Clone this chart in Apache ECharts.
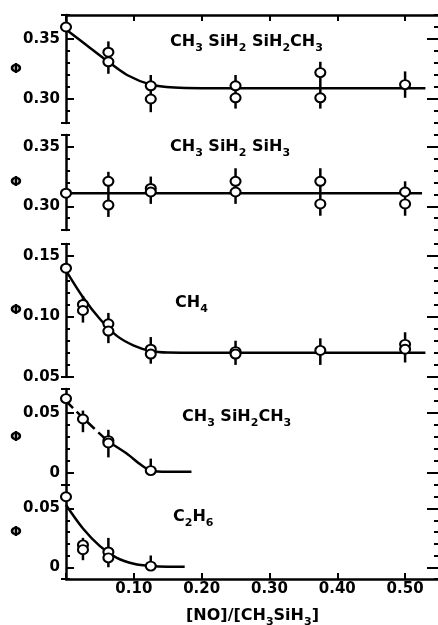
<!DOCTYPE html>
<html>
<head>
<meta charset="utf-8">
<script src="https://cdn.jsdelivr.net/npm/echarts@6/dist/echarts.min.js"></script>
<style>
html, body { margin: 0; padding: 0; background: #fff; }
#box { width: 438px; height: 625px; }
</style>
</head>
<body>
<div id="box"></div>
<script>
// x axis: [NO]/[CH3SiH3]
const xTicks = [0.1, 0.2, 0.3, 0.4, 0.5];

// CH3SiH2SiH2CH3
const disiPts = [[0, 0.360], [0.0625, 0.339], [0.0625, 0.331], [0.125, 0.311], [0.125, 0.300],
  [0.25, 0.311], [0.25, 0.301], [0.375, 0.322], [0.375, 0.301], [0.5, 0.312]];
const disiBars = [[0.0625, 0.321, 0.348], [0.125, 0.289, 0.320], [0.25, 0.292, 0.320],
  [0.375, 0.292, 0.331], [0.5, 0.301, 0.323]];
const disiCurve = [[0, 0.358], [0.03, 0.345], [0.0625, 0.331], [0.09, 0.320], [0.125, 0.312],
  [0.16, 0.3095], [0.2, 0.309], [0.3, 0.309], [0.4, 0.309], [0.53, 0.309]];

// CH3SiH2SiH3
const triPts = [[0, 0.311], [0.0625, 0.321], [0.0625, 0.301], [0.125, 0.315], [0.125, 0.312],
  [0.25, 0.321], [0.25, 0.312], [0.375, 0.321], [0.375, 0.302], [0.5, 0.312], [0.5, 0.302]];
const triBars = [[0.0625, 0.291, 0.329], [0.125, 0.302, 0.325], [0.25, 0.302, 0.332],
  [0.375, 0.292, 0.332], [0.5, 0.292, 0.321]];
const triCurve = [[0, 0.311], [0.25, 0.311], [0.525, 0.311]];

// CH4
const ch4Pts = [[0, 0.140], [0.025, 0.110], [0.025, 0.105], [0.0625, 0.094], [0.0625, 0.088],
  [0.125, 0.073], [0.125, 0.069], [0.25, 0.071], [0.25, 0.069], [0.375, 0.072], [0.5, 0.077], [0.5, 0.073]];
const ch4Bars = [[0.025, 0.095, 0.117], [0.0625, 0.078, 0.103], [0.125, 0.061, 0.083],
  [0.25, 0.060, 0.080], [0.375, 0.060, 0.082], [0.5, 0.062, 0.087]];
const ch4Curve = [[0, 0.138], [0.025, 0.116], [0.05, 0.098], [0.075, 0.084], [0.1, 0.076],
  [0.125, 0.0715], [0.15, 0.0702], [0.2, 0.070], [0.3, 0.070], [0.4, 0.070], [0.53, 0.070]];

// CH3SiH2CH3 (dashed start, then solid)
const dmsPts = [[0, 0.062], [0.025, 0.045], [0.0625, 0.027], [0.0625, 0.025], [0.125, 0.002]];
const dmsBars = [[0.025, 0.034, 0.052], [0.0625, 0.013, 0.036], [0.125, 0.0, 0.012]];
const dmsCurveDash = [[0, 0.060], [0.025, 0.046], [0.0625, 0.026]];
const dmsCurve = [[0.0625, 0.026], [0.09, 0.016], [0.11, 0.007], [0.125, 0.002],
  [0.15, 0.001], [0.185, 0.001]];

// C2H6
const ethPts = [[0, 0.060], [0.025, 0.019], [0.025, 0.015], [0.0625, 0.013], [0.0625, 0.008], [0.125, 0.001]];
const ethBars = [[0.025, 0.006, 0.025], [0.0625, 0.0, 0.025], [0.125, 0.0, 0.010]];
const ethCurve = [[0, 0.053], [0.025, 0.033], [0.05, 0.018], [0.075, 0.008], [0.1, 0.003],
  [0.125, 0.001], [0.15, 0.0005], [0.175, 0.0005]];

const panels = [
  { label: '{b|CH}{s|3}{b| SiH}{s|2}{b| SiH}{s|2}{b|CH}{s|3}', lx: 170, ly: 30,
    top: 15, height: 108, min: 0.28, max: 0.37, yTicks: [0.30, 0.35],
    pts: disiPts, bars: disiBars, curve: disiCurve },
  { label: '{b|CH}{s|3}{b| SiH}{s|2}{b| SiH}{s|3}', lx: 170, ly: 135,
    top: 135, height: 95, min: 0.28, max: 0.36, yTicks: [0.30, 0.35],
    pts: triPts, bars: triBars, curve: triCurve },
  { label: '{b|CH}{s|4}', lx: 175, ly: 291,
    top: 244, height: 133, min: 0.05, max: 0.16, yTicks: [0.05, 0.10, 0.15],
    pts: ch4Pts, bars: ch4Bars, curve: ch4Curve },
  { label: '{b|CH}{s|3}{b| SiH}{s|2}{b|CH}{s|3}', lx: 182, ly: 405,
    top: 389, height: 96, min: -0.01, max: 0.07, yTicks: [0, 0.05],
    pts: dmsPts, bars: dmsBars, curve: dmsCurve, dash: dmsCurveDash },
  { label: '{b|C}{s|2}{b|H}{s|6}', lx: 173, ly: 505,
    top: 485, height: 94, min: -0.01, max: 0.07, yTicks: [0, 0.05],
    pts: ethPts, bars: ethBars, curve: ethCurve }
];

const font = 'DejaVu Sans';
const rich = {
  b: { fontFamily: font, fontWeight: 'bold', fontSize: 16, color: '#000', lineHeight: 24 },
  s: { fontFamily: font, fontWeight: 'bold', fontSize: 11, color: '#000', lineHeight: 24, verticalAlign: 'bottom' }
};
const black = { color: '#000', width: 2.5 };
const fmt = v => (v === 0 ? '0' : v.toFixed(2));

const grids = [], xAxes = [], yAxes = [], series = [], titles = [];

panels.forEach((p, i) => {
  grids.push({ left: 66, width: 373, top: p.top, height: p.height, outerBoundsMode: 'none', containLabel: false });
  titles.push({ text: p.label, left: p.lx, top: p.ly, padding: 0, textStyle: { rich } });

  const last = i === panels.length - 1;
  xAxes.push({
    gridIndex: i, type: 'value', min: 0, max: 0.55, interval: 0.1,
    show: i === 0 || last, position: i === 0 ? 'top' : 'bottom',
    axisLine: { onZero: false, lineStyle: black },
    axisTick: { inside: true, length: 6, lineStyle: { color: '#000', width: 2 } },
    axisLabel: last ? {
      customValues: xTicks, formatter: fmt, margin: 3,
      fontFamily: font, fontWeight: 'bold', fontSize: 15, color: '#000'
    } : { show: false },
    splitLine: { show: false },
    name: last ? '{b|[NO]/[CH}{s|3}{b|SiH}{s|3}{b|]}' : '',
    nameLocation: 'middle', nameGap: 25, nameMoveOverlap: false,
    nameTextStyle: { rich }
  });

  const base = { gridIndex: i, type: 'value', min: p.min, max: p.max, splitLine: { show: false } };
  const yi = yAxes.length;
  // main left axis, minor ticks every 0.01
  yAxes.push({
    ...base, position: 'left', interval: 0.01,
    axisLine: { onZero: false, lineStyle: black },
    axisTick: { inside: true, length: 4, lineStyle: { color: '#000', width: 2 } },
    axisLabel: {
      customValues: p.yTicks, formatter: fmt, margin: 6,
      fontFamily: font, fontWeight: 'bold', fontSize: 15, color: '#000'
    },
    name: 'Φ', nameLocation: 'middle', nameRotate: 0, nameGap: 44, nameMoveOverlap: false,
    nameTextStyle: { fontFamily: font, fontWeight: 'bold', fontSize: 14, color: '#000' }
  });
  // longer ticks at labelled values
  yAxes.push({
    ...base, position: 'left',
    axisLine: { show: false, onZero: false },
    axisTick: { inside: true, length: 8, customValues: p.yTicks, lineStyle: { color: '#000', width: 2 } },
    axisLabel: { show: false }
  });
  // end brackets
  yAxes.push({
    ...base, position: 'left',
    axisLine: { show: false, onZero: false },
    axisTick: { inside: false, length: 5, customValues: [p.min, p.max], lineStyle: { color: '#000', width: 2 } },
    axisLabel: { show: false }
  });
  // right edge ticks
  yAxes.push({
    ...base, position: 'right', interval: 0.01,
    axisLine: { onZero: false, lineStyle: black },
    axisTick: { inside: true, length: 5, lineStyle: { color: '#000', width: 2 } },
    axisLabel: { show: false }
  });
  yAxes.push({
    ...base, position: 'right',
    axisLine: { show: false, onZero: false },
    axisTick: { inside: true, length: 12, customValues: p.yTicks, lineStyle: { color: '#000', width: 2 } },
    axisLabel: { show: false }
  });

  series.push({
    type: 'line', xAxisIndex: i, yAxisIndex: yi, data: p.curve,
    smooth: 0.3, showSymbol: false, z: 2,
    lineStyle: { color: '#000', width: 2.5 }
  });
  if (p.dash) {
    series.push({
      type: 'line', xAxisIndex: i, yAxisIndex: yi, data: p.dash,
      smooth: 0.3, showSymbol: false, z: 2,
      lineStyle: { color: '#000', width: 2.5, type: [10, 5] }
    });
  }
  series.push({
    type: 'custom', xAxisIndex: i, yAxisIndex: yi, data: p.bars, z: 3,
    renderItem: (params, api) => {
      const a = api.coord([api.value(0), api.value(1)]);
      const b = api.coord([api.value(0), api.value(2)]);
      return {
        type: 'line',
        shape: { x1: a[0], y1: a[1], x2: b[0], y2: b[1] },
        style: { stroke: '#000', lineWidth: 2.5 }
      };
    }
  });
  series.push({
    type: 'scatter', xAxisIndex: i, yAxisIndex: yi, data: p.pts, z: 4,
    symbol: 'circle', symbolSize: [10, 9],
    itemStyle: { color: '#fff', borderColor: '#000', borderWidth: 2, opacity: 1 }
  });
});

const chart = echarts.init(document.getElementById('box'), null, { renderer: 'canvas' });
chart.setOption({
  animation: false,
  backgroundColor: '#fff',
  title: titles,
  grid: grids,
  xAxis: xAxes,
  yAxis: yAxes,
  series
});
</script>
</body>
</html>
